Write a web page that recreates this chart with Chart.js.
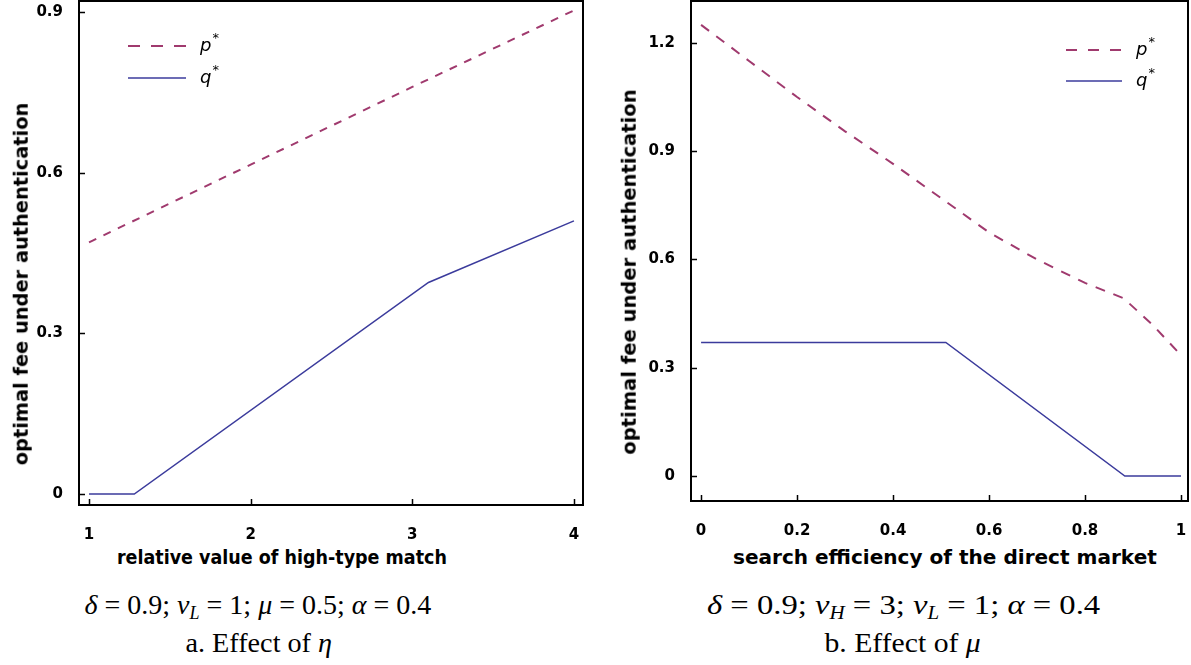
<!DOCTYPE html>
<html>
<head>
<meta charset="utf-8">
<script src="https://cdn.jsdelivr.net/npm/chart.js@4"></script>
<style>
  body { margin: 0; background: #fff; }
  #page { position: relative; width: 1191px; height: 665px; overflow: hidden; }
  canvas { position: absolute; top: 0; }
  .fit { position: absolute; white-space: nowrap; color: #000; left: 0; top: 0; }
  .axt { font: bold 19px "DejaVu Sans", sans-serif; }
  .cap { font: 28px "Liberation Serif", serif; }
  .cap i { font-style: italic; }
  .cap .eq { margin: 0 7px; }
  .cap sub { font-size: 18px; vertical-align: -5px; line-height: 0; }
</style>
</head>
<body>
<div id="page">
  <canvas id="left" width="600" height="545" style="left:0;width:600px;height:545px"></canvas>
  <canvas id="right" width="591" height="545" style="left:600px;width:591px;height:545px"></canvas>

  <div class="fit axt" data-cx="282" data-cy="557" data-w="330">relative value of high-type match</div>
  <div class="fit axt" data-cx="945" data-cy="557" data-w="424">search efficiency of the direct market</div>
  <div class="fit axt" data-cx="20" data-cy="284" data-w="362" data-rot="1">optimal fee under authentication</div>
  <div class="fit axt" data-cx="628" data-cy="272" data-w="365" data-rot="1">optimal fee under authentication</div>

  <div class="fit cap" data-cx="258" data-cy="605" data-w="347"><i>δ</i><span class="eq">=</span>0.9; <i>v</i><sub><i>L</i></sub><span class="eq">=</span>1; <i>μ</i><span class="eq">=</span>0.5; <i>α</i><span class="eq">=</span>0.4</div>
  <div class="fit cap" data-cx="259" data-cy="643" data-w="147">a. Effect of <i>η</i></div>
  <div class="fit cap" data-cx="903" data-cy="605" data-w="393"><i>δ</i><span class="eq">=</span>0.9; <i>v</i><sub><i>H</i></sub><span class="eq">=</span>3; <i>v</i><sub><i>L</i></sub><span class="eq">=</span>1; <i>α</i><span class="eq">=</span>0.4</div>
  <div class="fit cap" data-cx="902" data-cy="643" data-w="156">b. Effect of <i>μ</i></div>
</div>
<script>
  // panel a: effect of eta
  const etaP = [1, 2, 3, 4];
  const pEta = [0.47, 0.615, 0.76, 0.903];
  const etaQ = [1, 1.28, 3.1, 4];
  const qEta = [0, 0, 0.395, 0.51];
  const etaTicks = [1, 2, 3, 4];
  const etaTickLabels = ['1', '2', '3', '4'];
  const feeTicksA = [0, 0.3, 0.6, 0.9];
  const feeTickLabelsA = ['0', '0.3', '0.6', '0.9'];

  // panel b: effect of mu
  const muP = [0, 0.1, 0.2, 0.3, 0.4, 0.5, 0.6, 0.7, 0.8, 0.88, 0.94, 1];
  const pMu = [1.25, 1.15, 1.05, 0.955, 0.865, 0.77, 0.675, 0.6, 0.535, 0.493, 0.42, 0.335];
  const muQ = [0, 0.51, 0.883, 1];
  const qMu = [0.37, 0.37, 0, 0];
  const muTicks = [0, 0.2, 0.4, 0.6, 0.8, 1];
  const muTickLabels = ['0', '0.2', '0.4', '0.6', '0.8', '1'];
  const feeTicksB = [0, 0.3, 0.6, 0.9, 1.2];
  const feeTickLabelsB = ['0', '0.3', '0.6', '0.9', '1.2'];

  const seriesLabels = ['p', 'q'];
  const P_COLOR = '#a03a6e';
  const Q_COLOR = '#3b3b9c';

  const pts = (xs, ys) => xs.map((x, i) => ({ x, y: ys[i] }));

  // stretch html labels to the widths seen in the figure
  document.querySelectorAll('.fit').forEach((el) => {
    const w = el.offsetWidth;
    const h = el.offsetHeight;
    const sx = Number(el.dataset.w) / w;
    el.style.left = (Number(el.dataset.cx) - w / 2) + 'px';
    el.style.top = (Number(el.dataset.cy) - h / 2) + 'px';
    el.style.transform = (el.dataset.rot ? 'rotate(-90deg) ' : '') + 'scaleX(' + sx.toFixed(3) + ')';
  });

  // box frame + inward tick marks
  const framePlugin = {
    id: 'frame',
    afterDraw(chart) {
      const { ctx, chartArea: a, scales } = chart;
      ctx.save();
      ctx.strokeStyle = '#000';
      ctx.lineWidth = 1.5;
      ctx.beginPath();
      scales.x.ticks.forEach((t) => {
        const px = Math.round(scales.x.getPixelForValue(t.value)) + 0.5;
        ctx.moveTo(px, a.bottom);
        ctx.lineTo(px, a.bottom - 6);
      });
      scales.y.ticks.forEach((t) => {
        const py = Math.round(scales.y.getPixelForValue(t.value)) + 0.5;
        ctx.moveTo(a.left, py);
        ctx.lineTo(a.left + 6, py);
      });
      ctx.stroke();
      ctx.lineWidth = 2;
      ctx.strokeRect(a.left, a.top, a.right - a.left, a.bottom - a.top);
      ctx.restore();
    }
  };

  // legend drawn inside the plot area
  const innerLegend = {
    id: 'innerLegend',
    afterDatasetsDraw(chart, args, opts) {
      const { ctx, chartArea: a } = chart;
      ctx.save();
      chart.data.datasets.forEach((ds, i) => {
        const y = a.top + opts.y + i * opts.gap;
        const x0 = a.left + opts.x;
        ctx.strokeStyle = ds.borderColor;
        ctx.lineWidth = ds.borderWidth;
        ctx.setLineDash(ds.borderDash ? opts.dash : []);
        ctx.beginPath();
        ctx.moveTo(x0, y);
        ctx.lineTo(x0 + opts.len, y);
        ctx.stroke();
        ctx.setLineDash([]);
        ctx.fillStyle = '#000';
        ctx.textBaseline = 'middle';
        ctx.font = 'italic 18px "DejaVu Sans", sans-serif';
        const tx = x0 + opts.len + 14;
        ctx.fillText(ds.label, tx, y);
        const w = ctx.measureText(ds.label).width;
        ctx.font = '13px "DejaVu Sans", sans-serif';
        ctx.fillText('*', tx + w + 1, y - 7);
      });
      ctx.restore();
    }
  };

  function makeChart(id, cfg) {
    return new Chart(document.getElementById(id), {
      type: 'scatter',
      data: {
        datasets: [
          {
            label: seriesLabels[0],
            data: pts(cfg.pX, cfg.pY),
            showLine: true,
            borderColor: P_COLOR,
            borderWidth: 2,
            borderDash: cfg.dash,
            pointRadius: 0,
            tension: 0
          },
          {
            label: seriesLabels[1],
            data: pts(cfg.qX, cfg.qY),
            showLine: true,
            borderColor: Q_COLOR,
            borderWidth: 1.5,
            pointRadius: 0,
            tension: 0
          }
        ]
      },
      options: {
        responsive: false,
        animation: false,
        layout: { padding: { top: 1, right: cfg.padRight, left: 0, bottom: 0 } },
        scales: {
          x: {
            type: 'linear',
            min: cfg.xMin,
            max: cfg.xMax,
            grid: { display: false, drawTicks: false },
            border: { display: false },
            afterBuildTicks: (s) => { s.ticks = cfg.xTicks.map((v) => ({ value: v })); },
            afterFit: (s) => { s.height = cfg.xHeight; s.paddingLeft = 0; s.paddingRight = 0; },
            ticks: {
              padding: 21,
              color: '#000',
              maxRotation: 0,
              autoSkip: false,
              font: { family: 'DejaVu Sans', weight: 'bold', size: 15 },
              callback: (v, i) => cfg.xLabels[i]
            }
          },
          y: {
            type: 'linear',
            min: cfg.yMin,
            max: cfg.yMax,
            grid: { display: false, drawTicks: false },
            border: { display: false },
            afterBuildTicks: (s) => { s.ticks = cfg.yTicks.map((v) => ({ value: v })); },
            afterFit: (s) => { s.width = cfg.yWidth; s.paddingTop = 0; s.paddingBottom = 0; },
            ticks: {
              padding: 16,
              color: '#000',
              autoSkip: false,
              font: { family: 'DejaVu Sans', weight: 'bold', size: 15 },
              callback: (v, i) => cfg.yLabels[i]
            }
          }
        },
        plugins: {
          legend: { display: false },
          tooltip: { enabled: false },
          innerLegend: cfg.legend
        }
      },
      plugins: [framePlugin, innerLegend]
    });
  }

  makeChart('left', {
    pX: etaP, pY: pEta, qX: etaQ, qY: qEta,
    dash: [8, 8],
    xMin: 0.938, xMax: 4.056, yMin: -0.0205, yMax: 0.9205,
    xTicks: etaTicks, xLabels: etaTickLabels,
    yTicks: feeTicksA, yLabels: feeTickLabelsA,
    padRight: 17, xHeight: 40, yWidth: 79,
    legend: { x: 49, y: 45, gap: 32, len: 58, dash: [12, 11] }
  });

  makeChart('right', {
    pX: muP, pY: pMu, qX: muQ, qY: qMu,
    dash: [10, 9],
    xMin: -0.021, xMax: 1.0146, yMin: -0.069, yMax: 1.316,
    xTicks: muTicks, xLabels: muTickLabels,
    yTicks: feeTicksB, yLabels: feeTickLabelsB,
    padRight: 3, xHeight: 44, yWidth: 91,
    legend: { x: 375, y: 49, gap: 31, len: 56, dash: [11, 11] }
  });
</script>
</body>
</html>
